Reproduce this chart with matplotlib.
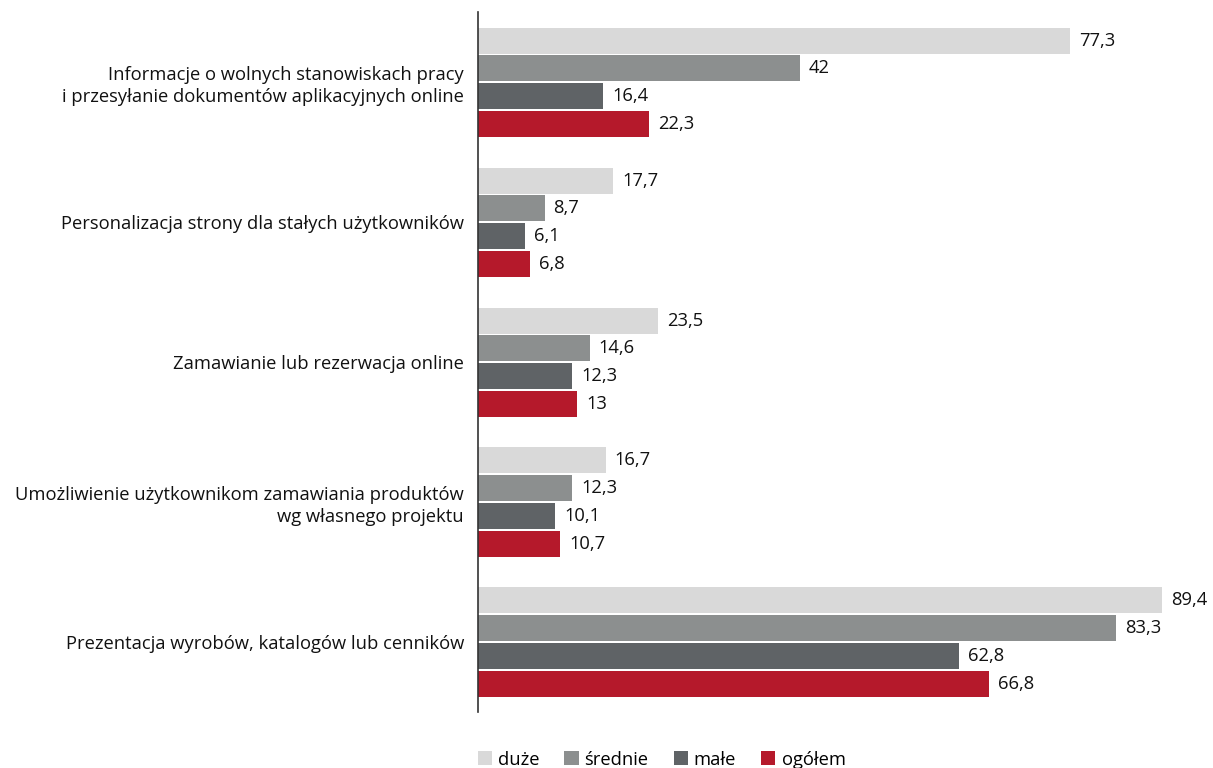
import numpy as np
import matplotlib.pyplot as plt

plt.rcParams['font.family'] = ['Open Sans', 'DejaVu Sans']

categories = [
    'Informacje o wolnych stanowiskach pracy\ni przesyłanie dokumentów aplikacyjnych online',
    'Personalizacja strony dla stałych użytkowników',
    'Zamawianie lub rezerwacja online',
    'Umożliwienie użytkownikom zamawiania produktów\nwg własnego projektu',
    'Prezentacja wyrobów, katalogów lub cenników',
]
series_names = ['duże', 'średnie', 'małe', 'ogółem']
duze = [77.3, 17.7, 23.5, 16.7, 89.4]
srednie = [42, 8.7, 14.6, 12.3, 83.3]
male = [16.4, 6.1, 12.3, 10.1, 62.8]
ogolem = [22.3, 6.8, 13, 10.7, 66.8]
colors = ['#d9d9d9', '#8c8f8f', '#5f6366', '#b5192b']


def fmt(v):
    s = ('%.1f' % v).rstrip('0').rstrip('.')
    return s.replace('.', ',')


fig = plt.figure(figsize=(12.13, 7.68), dpi=100)
ax = fig.add_axes([0.394, 0.073, 0.606, 0.911])

y = np.arange(len(categories))
step = 0.198
h = 0.186
offsets = (np.arange(4) - 1.5) * step
for i, vals in enumerate([duze, srednie, male, ogolem]):
    bars = ax.barh(y + offsets[i], vals, height=h, color=colors[i],
                   label=series_names[i])
    for b, v in zip(bars, vals):
        ax.annotate(fmt(v), (b.get_width(), b.get_y() + b.get_height() / 2),
                    xytext=(6.5, 0), textcoords='offset points',
                    va='center', ha='left', fontsize=13.2, color='#111111')

ax.set_xlim(0, 96)
ax.set_ylim(4.5, -0.5)
ax.set_yticks(y)
ax.set_yticklabels(categories, fontsize=13.2, color='#111111', linespacing=1.25)
ax.tick_params(axis='y', length=0, pad=10)
ax.set_xticks([])
for s in ['top', 'right', 'bottom']:
    ax.spines[s].set_visible(False)
ax.spines['left'].set_color('#333333')
ax.spines['left'].set_linewidth(1.2)

fig.legend(loc='center', bbox_to_anchor=(0.5454, 0.011), ncol=4, frameon=False,
           fontsize=13.2, handlelength=0.77, handleheight=0.77,
           handletextpad=0.33, columnspacing=1.37, borderpad=0)

fig.savefig('out.png', dpi=100)
